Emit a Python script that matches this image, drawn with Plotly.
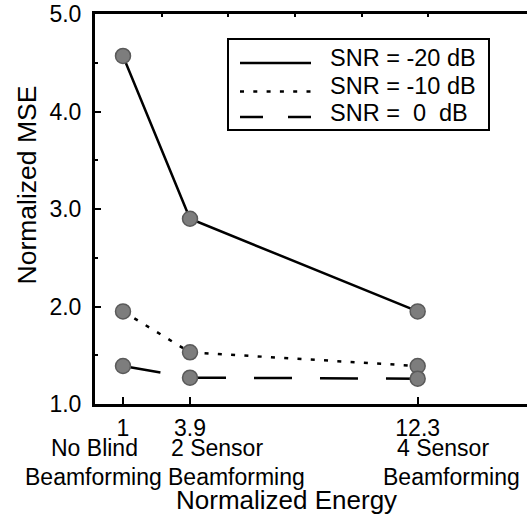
import plotly.graph_objects as go

# ---- data ----
energy_labels = ["1", "3.9", "12.3"]
energy_pos = [0.42, 1.425, 4.84]          # plot positions of the three configurations
config_line1 = ["No Blind", "2 Sensor", "4 Sensor"]
config_line2 = ["Beamforming", "Beamforming", "Beamforming"]
series_names = ["SNR = -20 dB", "SNR = -10 dB", "SNR =\u00a0 0\u00a0 dB"]
mse_m20 = [4.57, 2.90, 1.95]
mse_m10 = [1.95, 1.53, 1.39]
mse_0 = [1.39, 1.27, 1.26]
y_ticks = [1, 2, 3, 4, 5]

W, H = 527, 519
L, R, T, B = 95, 0, 14, 115
pw, ph = W - L - R, H - T - B
XR = [0, 6.48]

FONT = "Liberation Sans, Arial, sans-serif"

def xp(px):
    return (px - L) / pw

def yp(py):
    return (H - B - py) / ph

fig = go.Figure()

series = [mse_m20, mse_m10, mse_0]
plot_dash = ["solid", "4px,9.3px", "38px,28px"]
legend_dash = ["solid", "4px,9.3px", "23px,25px"]

for vals, dash in zip(series, plot_dash):
    fig.add_trace(go.Scatter(x=energy_pos, y=vals, mode="lines",
                             line=dict(color="black", width=2.5, dash=dash),
                             showlegend=False, hoverinfo="skip"))
for vals in series:
    fig.add_trace(go.Scatter(x=energy_pos, y=vals, mode="markers",
                             marker=dict(size=15, color="#7d7d7d",
                                         line=dict(color="#5a5a5a", width=1.5)),
                             showlegend=False, hoverinfo="skip"))

# dummy trace for top axis
fig.add_trace(go.Scatter(x=[None], y=[None], xaxis="x2", showlegend=False))

annotations = []
shapes = []
l1_centers = [94, 217, 443]
l2_centers = [93, 236, 451]
for t, cx in zip(config_line1, l1_centers):
    annotations.append(dict(text=t, x=xp(cx), y=yp(447.5), xref="paper", yref="paper",
                            xanchor="center", yanchor="middle", showarrow=False,
                            font=dict(size=23, color="black", family=FONT)))
for t, cx in zip(config_line2, l2_centers):
    annotations.append(dict(text=t, x=xp(cx), y=yp(476.5), xref="paper", yref="paper",
                            xanchor="center", yanchor="middle", showarrow=False,
                            font=dict(size=23, color="black", family=FONT)))
annotations.append(dict(text="Normalized Energy", x=xp(286), y=yp(500), xref="paper",
                        yref="paper", xanchor="center", yanchor="middle", showarrow=False,
                        font=dict(size=26, color="black", family=FONT)))
annotations.append(dict(text="Normalized MSE", x=xp(26), y=yp(185.5), xref="paper",
                        yref="paper", xanchor="center", yanchor="middle", showarrow=False,
                        textangle=-90, font=dict(size=26.5, color="black", family=FONT)))

# ---- manual legend ----
shapes.append(dict(type="rect", xref="paper", yref="paper",
                   x0=xp(228), x1=xp(489), y0=yp(130), y1=yp(39),
                   line=dict(color="black", width=2), fillcolor="white", layer="above"))
row_text_y = [57.5, 85.5, 112.5]
row_line_y = [63, 91.5, 117]
for name, dash, ty, ly in zip(series_names, legend_dash, row_text_y, row_line_y):
    shapes.append(dict(type="line", xref="paper", yref="paper",
                       x0=xp(240), x1=xp(311), y0=yp(ly), y1=yp(ly),
                       line=dict(color="black", width=2.5, dash=dash), layer="above"))
    annotations.append(dict(text=name, x=xp(328), y=yp(ty), xref="paper", yref="paper",
                            xanchor="left", yanchor="middle", showarrow=False,
                            font=dict(size=23.5, color="black", family=FONT)))

fig.update_layout(
    width=W, height=H,
    margin=dict(l=L, r=R, t=T, b=B, pad=0),
    paper_bgcolor="white", plot_bgcolor="white",
    font=dict(family=FONT, color="black"),
    showlegend=False,
    xaxis=dict(range=XR, tickvals=energy_pos, ticktext=energy_labels,
               ticks="inside", ticklen=7, tickwidth=2, tickcolor="black",
               showline=True, linewidth=3, linecolor="black", showgrid=False,
               zeroline=False, tickfont=dict(size=23, family=FONT),
               ticklabelstandoff=1),
    xaxis2=dict(range=XR, overlaying="x", side="top", anchor="y",
                tickvals=[1, 2, 3, 4, 5], ticks="inside", ticklen=3, tickwidth=2,
                tickcolor="black", showticklabels=False, showline=True, linewidth=3,
                linecolor="black", showgrid=False, zeroline=False),
    yaxis=dict(range=[1, 5], tickvals=y_ticks, tickformat=".1f",
               ticks="inside", ticklen=6, tickwidth=2, tickcolor="black",
               minor=dict(dtick=0.5, ticks="inside", ticklen=3, tickwidth=2,
                          tickcolor="black", showgrid=False),
               showline=True, linewidth=3, linecolor="black", showgrid=False,
               zeroline=False, tickfont=dict(size=23, family=FONT),
               ticklabelstandoff=6),
    annotations=annotations,
    shapes=shapes,
)

fig.write_html("out.html")
